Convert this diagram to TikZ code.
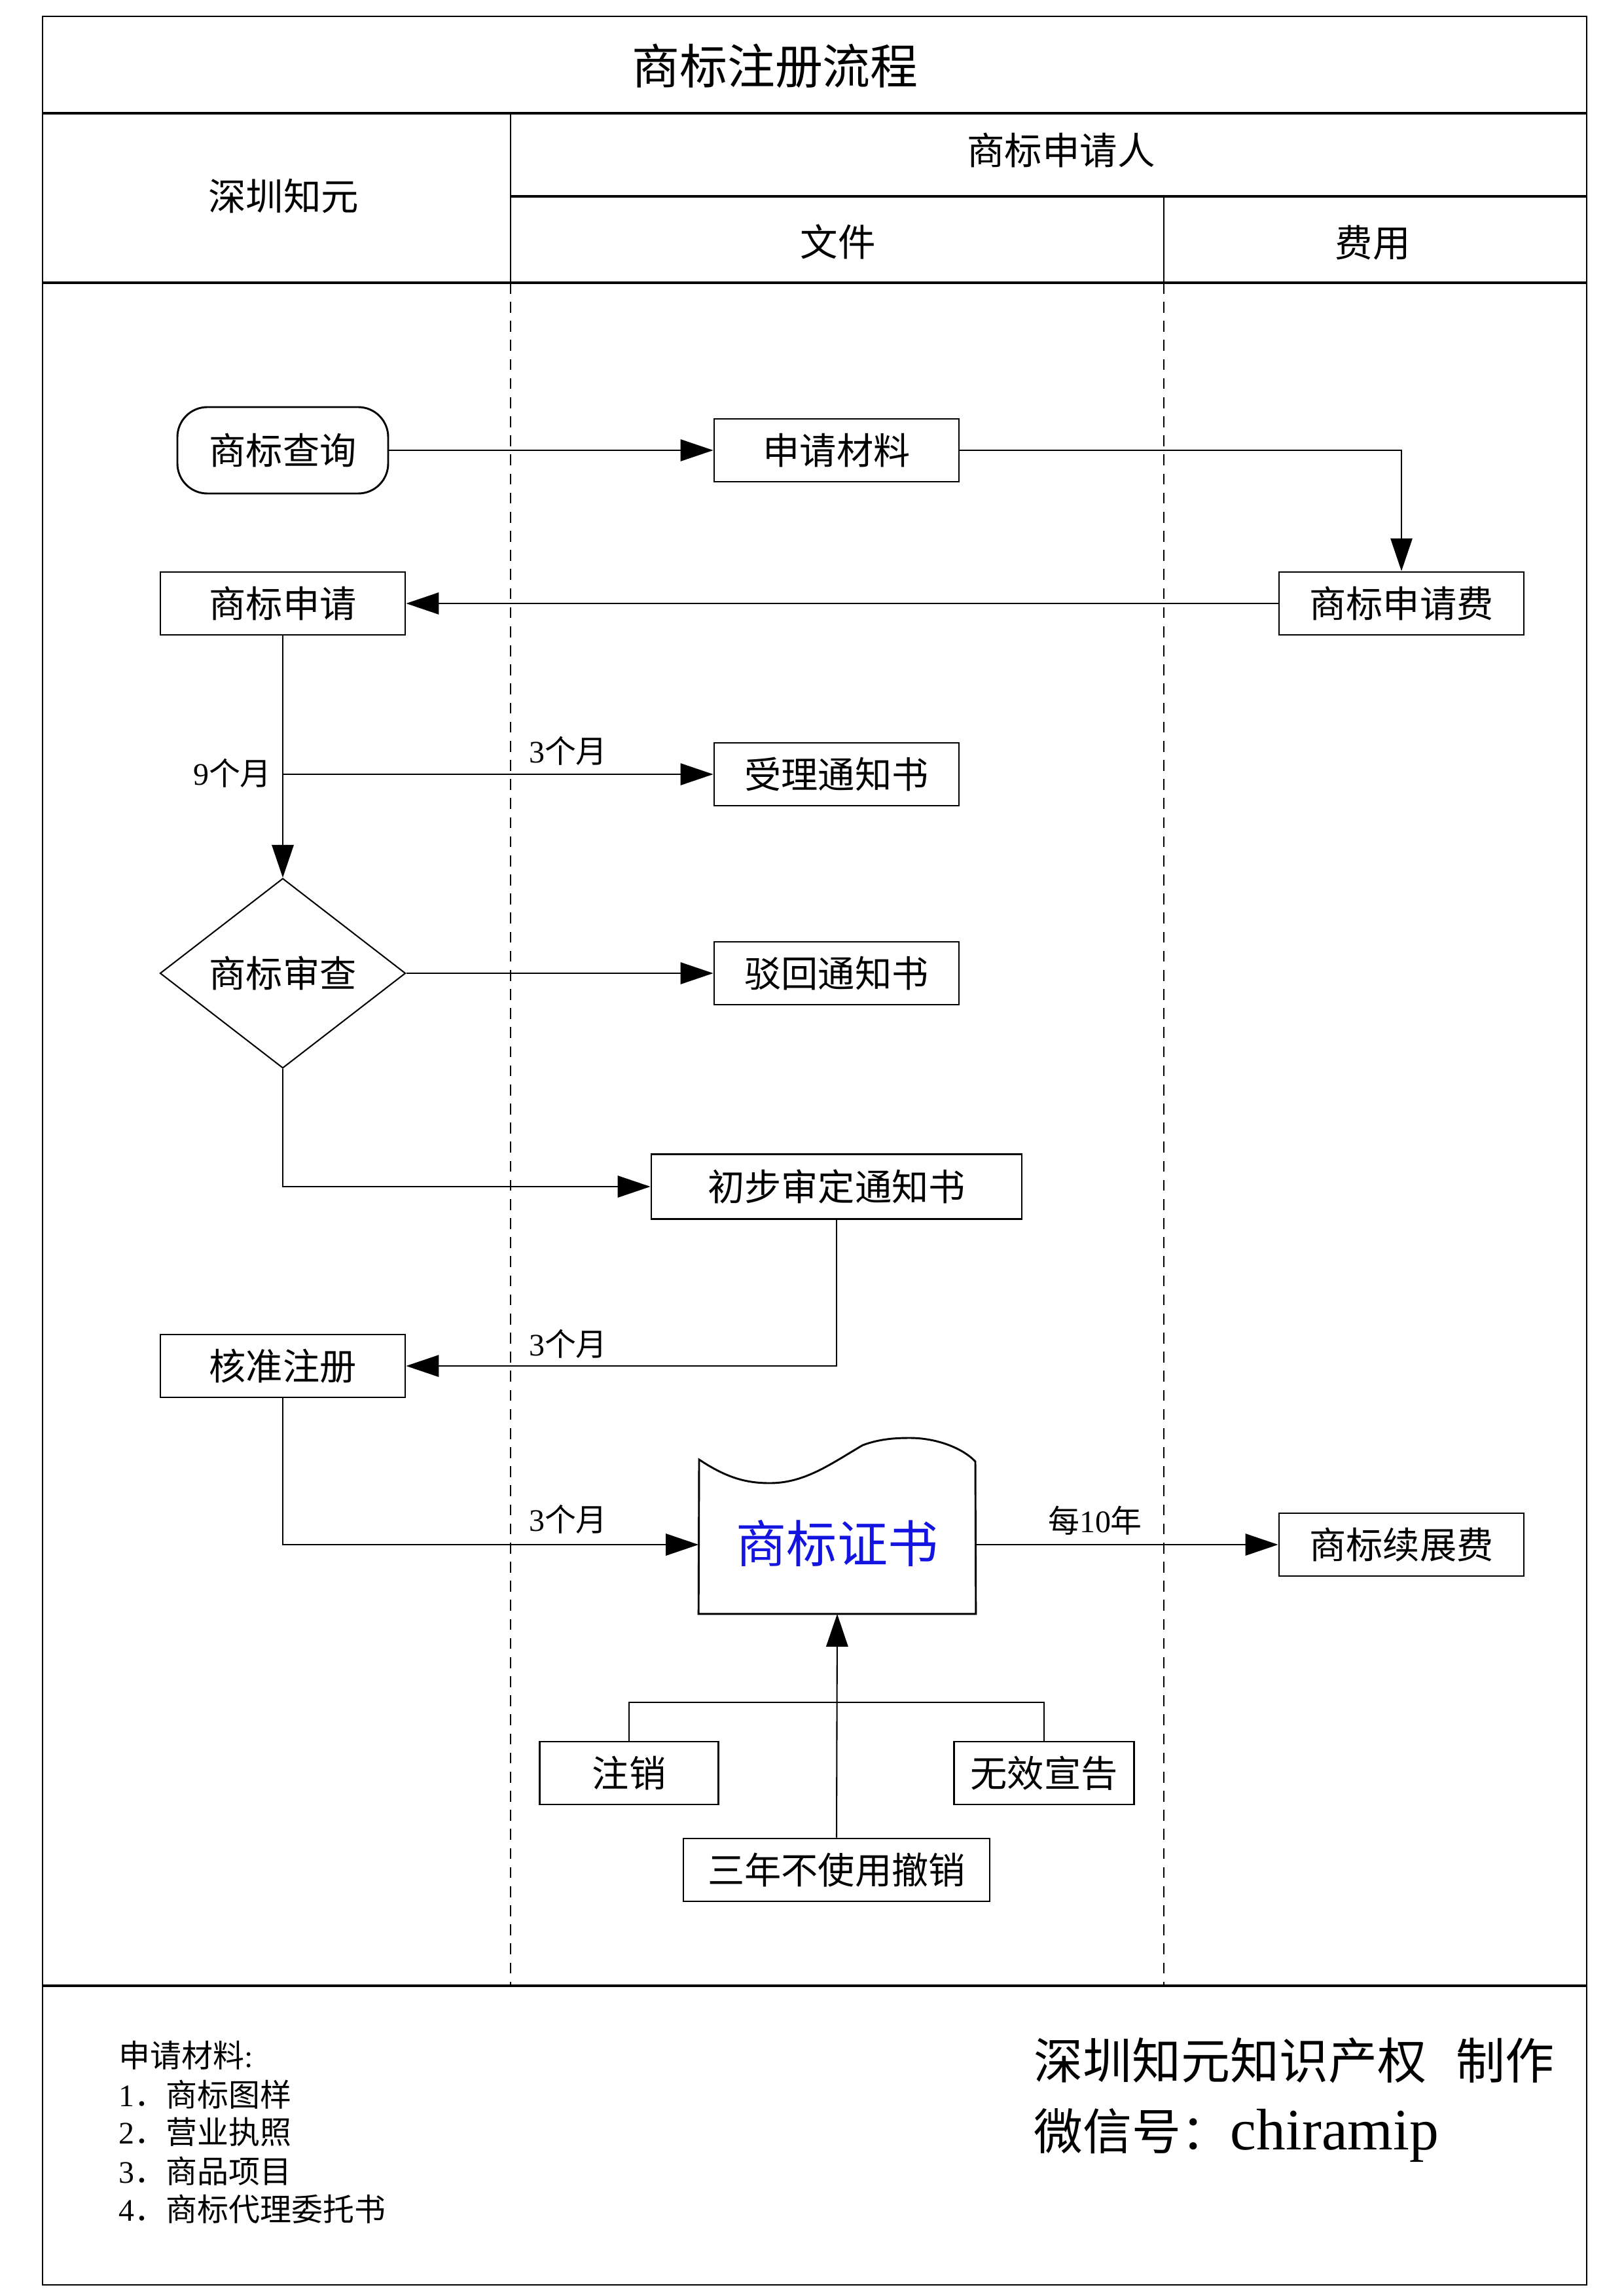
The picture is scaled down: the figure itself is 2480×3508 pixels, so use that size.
\documentclass[tikz,border=0pt]{standalone}
\usepackage{fontspec}
\setmainfont{Liberation Serif}
\newfontfamily\cjk{Noto Sans CJK SC}
\usetikzlibrary{arrows.meta,shapes.geometric}
\newcommand\pxu{0.24pt}
\newcommand\en[1]{{\rmfamily #1}}
\definecolor{certblue}{RGB}{20,20,225}
\begin{document}
\begin{tikzpicture}[x=0.24pt,y=-0.24pt,
  box/.style={draw,line width=0.7pt,minimum width=374*\pxu,minimum height=96*\pxu,inner sep=0pt,font=\cjk\fontsize{13.5}{16}\selectfont},
  lbl/.style={inner sep=0pt,font=\cjk\fontsize{11.5}{14}\selectfont},
  hdr/.style={inner sep=0pt,font=\cjk\fontsize{13.8}{16}\selectfont},
  arr/.style={-{Triangle[length=12pt,width=8pt]},line width=0.5pt},
  con/.style={line width=0.5pt},
  frame/.style={line width=0.6pt},
  sep/.style={line width=1pt},
  lane/.style={line width=0.5pt,dash pattern=on 4pt off 3pt}]
\useasboundingbox (0,0) rectangle (2480,3508);
% frame
\draw[frame] (65,25) rectangle (2424,3491);
\draw[sep] (65,173) -- (2424,173);
\draw[sep] (780,300) -- (2424,300);
\draw[sep] (65,432) -- (2424,432);
\draw[sep] (65,3034) -- (2424,3034);
\draw[frame] (780,173) -- (780,432);
\draw[frame] (1778,300) -- (1778,432);
\draw[lane] (780,432) -- (780,3034);
\draw[lane] (1778,432) -- (1778,3034);
% headers
\node[inner sep=0pt,font=\cjk\fontsize{17.5}{20}\selectfont] (title) at (1184,101) {商标注册流程};
\node[hdr] (h1) at (433,300) {深圳知元};
\node[hdr] (h2) at (1621,230) {商标申请人};
\node[hdr] (h3) at (1280,369) {文件};
\node[hdr] (h4) at (2097,371) {费用};
% nodes
\node[box,rounded corners=11pt,minimum width=322*\pxu,minimum height=132*\pxu] (q) at (432,688) {商标查询};
\node[box] (m) at (1278,688) {申请材料};
\node[box] (a) at (432,922) {商标申请};
\node[box] (f) at (2141,922) {商标申请费};
\node[box] (s) at (1278,1183) {受理通知书};
\node[box,shape=diamond,aspect=1.29,minimum width=375*\pxu,minimum height=290*\pxu,line width=0.5pt] (d) at (432,1487) {商标审查};
\node[box] (r) at (1278,1487) {驳回通知书};
\node[box,minimum width=566*\pxu,minimum height=99*\pxu] (p) at (1278,1813) {初步审定通知书};
\node[box] (h) at (432,2087) {核准注册};
\node[inner sep=0pt,minimum width=422*\pxu,minimum height=210*\pxu,text=certblue,font=\cjk\fontsize{18.5}{22}\selectfont] (c) at (1279,2360) {\raisebox{2.5pt}{商标证书}};
\draw[line width=0.7pt] (c.south west) -- (1068,2230)
  .. controls (1110,2258) and (1140,2266) .. (1176,2266)
  .. controls (1230,2266) and (1270,2236) .. (1318,2208)
  .. controls (1345,2198) and (1370,2197) .. (1390,2197)
  .. controls (1430,2197) and (1470,2212) .. (1490,2233)
  -- (c.south east) -- cycle;
\node[box] (x) at (2141,2360) {商标续展费};
\node[box,minimum width=273*\pxu] (z) at (961,2709) {注销};
\node[box,minimum width=275*\pxu] (w) at (1595,2709) {无效宣告};
\node[box,minimum width=468*\pxu] (t) at (1278,2857) {三年不使用撤销};
% connectors
\draw[arr] (q.east) -- (m.west);
\draw[arr] (m.east) -| (f.north);
\draw[arr] (f.west) -- (a.east);
\draw[arr] (a.south) -- (d.north);
\coordinate (b1) at (a.south |- s.west);
\draw[arr] (b1) -- (s.west);
\draw[arr] (d.east) -- (r.west);
\draw[arr] (d.south) |- (p.west);
\draw[arr] (p.south) |- (h.east);
\draw[arr] (h.south) |- (c.west);
\draw[arr] (c.east) -- (x.west);
\draw[arr] (t.north) -- (c.south);
\coordinate (j) at (1278,2601);
\draw[con] (z.north) |- (j) -| (w.north);
% labels
\node[lbl] (l1) at (355,1181) {\en{9}个月};
\node[lbl] (l2) at (868,1147) {\en{3}个月};
\node[lbl] (l3) at (868,2053) {\en{3}个月};
\node[lbl] (l4) at (868,2321) {\en{3}个月};
\node[lbl] (l5) at (1673,2323) {每\en{10}年};
% footer
\node[lbl,anchor=west] (n0) at (181,3140) {申请材料\en{:}};
\node[lbl,anchor=west] (n1) at (181,3200) {\en{1}．商标图样};
\node[lbl,anchor=west] (n2) at (181,3257) {\en{2}．营业执照};
\node[lbl,anchor=west] (n3) at (181,3317) {\en{3}．商品项目};
\node[lbl,anchor=west] (n4) at (181,3375) {\en{4}．商标代理委托书};
\node[inner sep=0pt,anchor=west,font=\cjk\fontsize{18}{22}\selectfont] (o1) at (1579,3148) {深圳知元知识产权\hspace{0.6em}制作};
\node[inner sep=0pt,anchor=west,font=\cjk\fontsize{18}{22}\selectfont] (o2) at (1579,3262) {微信号：{\rmfamily\fontsize{21.5}{25}\selectfont chiramip}};
\end{tikzpicture}
\end{document}
